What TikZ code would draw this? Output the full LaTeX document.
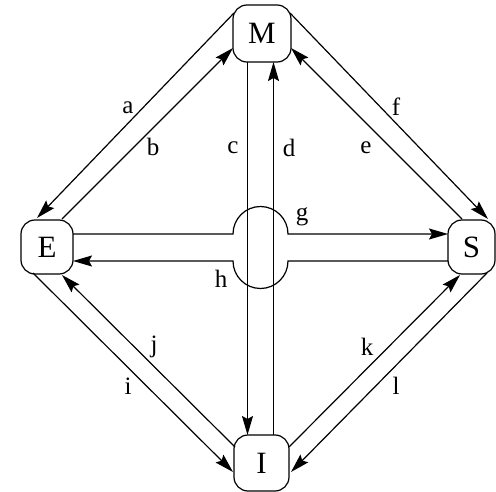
\documentclass[tikz,border=0pt]{standalone}
\usepackage{fontspec}
\setmainfont{Liberation Serif}
\usetikzlibrary{arrows.meta}
\begin{document}
\begin{tikzpicture}[x=1pt,y=-1pt,
  box/.style={draw, line width=1.2pt, rounded corners=14pt, inner sep=0pt, font=\fontsize{31}{31}\selectfont},
  lbl/.style={inner sep=0pt, font=\fontsize{25}{25}\selectfont},
  conn/.style={line width=1.2pt, -{Stealth[length=19pt,width=11pt,inset=3pt]}}]
\useasboundingbox (0,0) rectangle (496,492);
% nodes
\node[box, minimum width=58pt, minimum height=57pt] (M) at (262,33.5) {M};
\node[box, minimum width=52pt, minimum height=54pt] (E) at (47,247) {E};
\node[box, minimum width=47pt, minimum height=54pt] (S) at (471.5,247) {S};
\node[box, minimum width=55pt, minimum height=56pt] (I) at (261.5,463) {I};
% bump coordinates
\coordinate (gL) at (233,234);
\coordinate (hR) at (288,261);
% M <-> E
\draw[conn] ([shift={(-28,-20.5)}]M.center) -- ([shift={(-10,-29)}]E.center);
\draw[conn] ([shift={(15,-28)}]E.center) -- ([shift={(-29,14.5)}]M.center);
% M <-> S
\draw[conn] ([shift={(28,-20.5)}]M.center) -- ([shift={(16.5,-28)}]S.center);
\draw[conn] ([shift={(-9.5,-28)}]S.center) -- ([shift={(29,14.5)}]M.center);
% M <-> I
\draw[conn] ([shift={(-14.5,28.5)}]M.center) -- ([shift={(-14,-28)}]I.center);
\draw[conn] ([shift={(12,-28)}]I.center) -- ([shift={(11.5,28.5)}]M.center);
% E <-> S with bumps
\draw[conn] ([shift={(26,-13)}]E.center) -- (gL) arc[start angle=180, end angle=0, radius=27.5pt] -- ([shift={(-23.5,-13)}]S.center);
\draw[conn] ([shift={(-23.5,14)}]S.center) -- (hR) arc[start angle=0, end angle=-180, radius=27.5pt] -- ([shift={(26,14)}]E.center);
% E <-> I
\draw[conn] ([shift={(-14,26)}]E.center) -- ([shift={(-28.5,9)}]I.center);
\draw[conn] ([shift={(-26.5,-16)}]I.center) -- ([shift={(15,28)}]E.center);
% S <-> I
\draw[conn] ([shift={(27.5,-16)}]I.center) -- ([shift={(-11.5,28)}]S.center);
\draw[conn] ([shift={(15.5,26)}]S.center) -- ([shift={(29.5,9)}]I.center);
% labels
\node[lbl] (la) at (128,108) {a};
\node[lbl] (lb) at (153,147) {b};
\node[lbl] (lc) at (233,148) {c};
\node[lbl] (ld) at (289,148) {d};
\node[lbl] (le) at (366,148) {e};
\node[lbl] (lf) at (396,107) {f};
\node[lbl] (lg) at (302,217) {g};
\node[lbl] (lh) at (221,279) {h};
\node[lbl] (li) at (128,386) {i};
\node[lbl] (lj) at (154,347) {j};
\node[lbl] (lk) at (367,347) {k};
\node[lbl] (ll) at (396,386) {l};
\end{tikzpicture}
\end{document}
